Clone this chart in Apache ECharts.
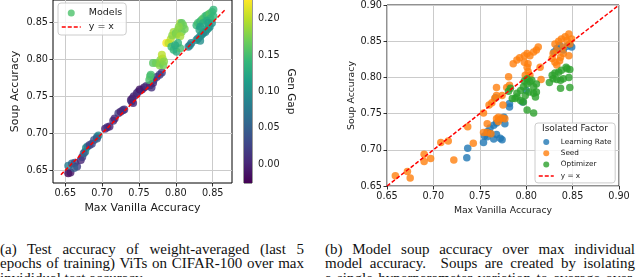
<!DOCTYPE html>
<html><head><meta charset="utf-8">
<script src="https://cdn.jsdelivr.net/npm/echarts@6/dist/echarts.min.js"></script>
<style>
html,body{margin:0;padding:0;width:640px;height:277px;overflow:hidden;background:#fff;}
#chart{position:absolute;left:0;top:0;width:640px;height:232px;}
.cap{position:absolute;top:241.5px;font-family:"Liberation Serif","Times New Roman",serif;font-size:15px;line-height:14.5px;color:#111;}
.cap div{text-align:justify;text-align-last:justify;white-space:normal;}
.cap div.last{text-align:left;text-align-last:left;}
</style></head>
<body>
<div id="chart"></div>
<div class="cap" style="left:0;width:304px;">
<div>(a) Test accuracy of weight-averaged (last 5</div>
<div>epochs of training) ViTs on CIFAR-100 over max</div>
<div class="last">invididual test accuracy.</div>
</div>
<div class="cap" style="left:325px;width:310px;">
<div>(b) Model soup accuracy over max individual</div>
<div>model accuracy.&nbsp; Soups are created by isolating</div>
<div>a single hyperparameter variation to average over.</div>
</div>
<script>
// ---- Left panel: weight-averaged ViTs (Max Vanilla Accuracy, Soup Accuracy, Gen Gap)
const modelVanilla = [
0.654,0.657,0.654,0.659,0.663,0.666,0.662,0.671,0.673,0.677,
0.678,0.680,0.675,0.683,0.686,0.689,0.693,0.695,0.693,0.704,
0.707,0.710,0.715,0.717,0.722,0.725,0.728,0.730,0.739,0.741,
0.743,0.740,0.742,0.747,0.749,0.751,0.754,0.757,0.760,0.765,
0.767,0.769,0.770,0.774,0.778,0.781,
0.764,0.765,0.766,0.769,0.773,0.778,0.779,0.782,0.781,0.778,
0.783,0.784,0.787,0.790,0.793,0.795,0.797,0.800,0.803,0.806,
0.808,0.810,0.812,0.808,0.804,0.801,0.806,0.794,0.797,0.801,
0.806,0.803,0.799,
0.817,0.819,0.821,0.828,0.830,0.833,0.835,0.837,0.840,0.842,
0.844,0.846,0.849,0.833,
0.828,0.830,0.833,0.835,0.837,0.840,0.842,0.844,0.846,0.849,
0.851,0.847,0.842,0.837,0.833,0.832,0.851,0.844];
const modelSoup = [
0.646,0.647,0.656,0.659,0.660,0.655,0.653,0.664,0.668,0.675,
0.680,0.682,0.673,0.684,0.686,0.691,0.695,0.697,0.693,0.706,
0.708,0.709,0.717,0.720,0.727,0.729,0.731,0.732,0.745,0.747,
0.750,0.743,0.741,0.754,0.756,0.759,0.759,0.762,0.764,0.765,
0.762,0.768,0.772,0.776,0.779,0.782,
0.772,0.777,0.779,0.795,0.795,0.795,0.799,0.801,0.806,0.792,
0.792,0.797,0.822,0.822,0.827,0.832,0.837,0.835,0.840,0.849,
0.849,0.846,0.841,0.837,0.844,0.833,0.831,0.817,0.813,0.810,
0.815,0.822,0.819,
0.817,0.819,0.822,0.826,0.828,0.831,0.833,0.835,0.837,0.840,
0.842,0.844,0.849,0.825,
0.846,0.849,0.851,0.853,0.855,0.858,0.859,0.860,0.862,0.864,
0.867,0.855,0.852,0.849,0.844,0.840,0.858,0.849];
const modelGap = [
-0.025,-0.01,0.08,0.06,0.04,0.02,0.05,0.0,0.02,0.09,
0.10,0.08,0.05,0.02,0.03,0.04,0.07,0.09,0.05,0.0,
0.01,0.0,0.01,0.0,0.02,0.0,0.01,0.01,0.0,-0.01,
0.0,0.01,0.0,0.0,0.01,-0.01,0.0,-0.01,0.01,0.0,
0.01,0.0,0.02,0.01,0.02,0.02,
0.15,0.16,0.15,0.16,0.17,0.17,0.18,0.19,0.20,0.18,
0.17,0.18,0.226,0.20,0.20,0.18,0.19,0.17,0.18,0.19,
0.16,0.17,0.17,0.17,0.18,0.18,0.19,0.14,0.14,0.13,
0.15,0.14,0.13,
0.08,0.09,0.08,0.10,0.09,0.09,0.10,0.10,0.09,0.10,
0.11,0.10,0.10,0.10,
0.14,0.15,0.14,0.15,0.16,0.15,0.14,0.15,0.16,0.15,
0.14,0.14,0.13,0.13,0.12,0.12,0.14,0.12];
const leftDiag = [0.644, 0.868];
const leftXTicks = [0.65, 0.70, 0.75, 0.80, 0.85];
const leftYTicks = [0.65, 0.70, 0.75, 0.80, 0.85];
const gapTicks = [0.00, 0.05, 0.10, 0.15, 0.20];
const gapRange = [-0.0257, 0.226];

// ---- Right panel: soups by isolated factor
const lrVanilla = [0.736,0.737,0.754,0.755,0.758,0.761,0.765,0.768,0.772,0.776,0.777,0.765,0.768,0.772,0.774,0.761,0.758,0.782,0.782,0.767,0.796,0.800,0.830,0.833,0.840,0.844,0.847,0.849,0.836];
const lrSoup    = [0.689,0.702,0.710,0.719,0.725,0.730,0.734,0.737,0.742,0.745,0.736,0.715,0.721,0.716,0.714,0.723,0.718,0.764,0.759,0.772,0.766,0.782,0.835,0.840,0.838,0.843,0.845,0.842,0.844];
const seedVanilla = [0.659,0.672,0.675,0.690,0.690,0.697,0.708,0.716,0.722,0.737,0.743,0.754,0.758,0.754,0.758,0.762,0.760,0.763,0.766,0.768,0.775,0.774,0.768,0.768,0.770,0.774,0.777,0.770,0.781,0.782,0.779,0.786,0.790,0.793,0.798,0.801,0.804,0.808,0.811,0.813,0.798,0.801,0.802,0.802,0.815,0.816,0.831,0.835,0.838,0.842,0.846,0.844,0.833,0.829,0.828,0.831,0.833,0.837,0.840,0.846,0.847,0.849,0.840,0.836,0.799,0.804];
const seedSoup    = [0.664,0.670,0.661,0.694,0.684,0.688,0.710,0.712,0.686,0.732,0.709,0.751,0.736,0.724,0.724,0.722,0.762,0.765,0.771,0.775,0.762,0.775,0.786,0.743,0.745,0.744,0.743,0.739,0.801,0.789,0.786,0.819,0.824,0.827,0.830,0.833,0.830,0.835,0.838,0.842,0.821,0.814,0.808,0.819,0.814,0.797,0.846,0.850,0.853,0.856,0.860,0.851,0.837,0.833,0.826,0.821,0.817,0.828,0.833,0.830,0.846,0.853,0.842,0.823,0.803,0.803];
const optVanilla = [0.785,0.790,0.794,0.797,0.801,0.804,0.808,0.811,0.803,0.799,0.794,0.788,0.783,0.790,0.797,0.808,0.810,0.801,0.811,0.801,0.808,0.825,0.829,0.828,0.831,0.835,0.838,0.844,0.847,0.833,0.837,0.840,0.846,0.837,0.847,0.843,0.806,0.798,0.781];
const optSoup    = [0.771,0.778,0.782,0.787,0.791,0.794,0.787,0.780,0.780,0.775,0.768,0.771,0.785,0.773,0.766,0.778,0.773,0.798,0.791,0.755,0.751,0.793,0.798,0.803,0.806,0.807,0.810,0.812,0.811,0.797,0.796,0.798,0.800,0.785,0.786,0.814,0.796,0.795,0.781];
const rightDiag = [0.65, 0.90];
const rightTicks = [0.65, 0.70, 0.75, 0.80, 0.85, 0.90];

const viridis = ['#440154','#482878','#3e4989','#31688e','#26828e','#1f9e89','#35b779','#6ece58','#b5de2b','#fde725'];
const FONT = 'DejaVu Sans';
const TXT = '#1a1a1a';

const zip2 = (a,b) => a.map((v,i)=>[v,b[i]]);
const zip3 = (a,b,c) => a.map((v,i)=>[v,b[i],c[i]]);
const fmt = v => v.toFixed(2);

function valAxis(o){
  return Object.assign({
    type:'value',
    axisLine:{show:false},
    axisTick:{show:true,length:3.5,lineStyle:{color:'#000',width:0.8}},
    axisLabel:{formatter:fmt,fontSize:9.7,color:TXT,fontFamily:FONT,margin:5},
    splitLine:{show:true,lineStyle:{color:'#cbcbcb',width:1}},
    nameLocation:'middle',
    nameTextStyle:{fontSize:11,color:TXT,fontFamily:FONT}
  }, o);
}

const lineLegend = {name:'y = x', itemStyle:{opacity:0, borderWidth:0}, lineStyle:{color:'#ff0000', width:1.5, type:[4,2]}};

const chart = echarts.init(document.getElementById('chart'), null, {renderer:'canvas'});
const option = {
  animation:false,
  textStyle:{fontFamily:FONT},
  grid:[
    {left:53, top:0, width:179, height:183, show:true, borderColor:'#000', borderWidth:1, backgroundColor:'transparent'},
    {left:244, top:0, width:8, height:183, show:true, borderColor:'#000', borderWidth:0.8},
    {left:387, top:4, width:232, height:182, show:true, borderColor:'#222', borderWidth:1, backgroundColor:'transparent'}
  ],
  xAxis:[
    valAxis({gridIndex:0, min:0.6333, max:0.8762, name:'Max Vanilla Accuracy', nameGap:19,
      axisTick:{show:true,length:3.5,lineStyle:{color:'#000',width:0.8},customValues:leftXTicks},
      axisLabel:{customValues:leftXTicks,formatter:fmt,fontSize:9.7,color:TXT,fontFamily:FONT,margin:5}}),
    {gridIndex:1, type:'value', min:0, max:1, show:false},
    valAxis({gridIndex:2, min:0.65, max:0.90, interval:0.05, name:'Max Vanilla Accuracy', nameGap:19,
      nameTextStyle:{fontSize:9.3,color:TXT,fontFamily:FONT}})
  ],
  yAxis:[
    valAxis({gridIndex:0, min:0.6328, max:0.8801, name:'Soup Accuracy', nameGap:32,
      axisTick:{show:true,length:3.5,lineStyle:{color:'#000',width:0.8},customValues:leftYTicks},
      axisLabel:{customValues:leftYTicks,formatter:fmt,fontSize:9.7,color:TXT,fontFamily:FONT,margin:5}}),
    {gridIndex:1, type:'value', position:'right', min:gapRange[0], max:gapRange[1],
      axisLine:{show:false}, splitLine:{show:false},
      axisTick:{show:true,length:3.5,lineStyle:{color:'#000',width:0.8},customValues:gapTicks},
      axisLabel:{customValues:gapTicks,formatter:fmt,fontSize:9.7,color:TXT,fontFamily:FONT,margin:6},
      name:'Gen Gap', nameLocation:'middle', nameRotate:-90, nameGap:33,
      nameTextStyle:{fontSize:10.5,color:TXT,fontFamily:FONT}},
    valAxis({gridIndex:2, min:0.65, max:0.90, interval:0.05, name:'Soup Accuracy', nameGap:31,
      nameTextStyle:{fontSize:9.3,color:TXT,fontFamily:FONT}})
  ],
  visualMap:[{
    type:'continuous', show:false, seriesIndex:0, dimension:2,
    min:gapRange[0], max:gapRange[1], inRange:{color:viridis}
  }],
  legend:[
    {left:58, top:3, orient:'vertical', selectedMode:false,
     data:[{name:'Models', icon:'circle', itemStyle:{color:'#4cc26c'}}, lineLegend],
     itemWidth:19, itemHeight:7, itemGap:3, padding:[4.5,4,2.5,3],
     backgroundColor:'rgba(255,255,255,0.8)', borderColor:'#cccccc', borderWidth:1, borderRadius:3,
     textStyle:{fontSize:9.5, color:TXT, lineHeight:11, fontFamily:FONT, padding:[0,0,0,3]}},
    {left:535, top:123, orient:'vertical', selectedMode:false,
     data:[{name:'Learning Rate', icon:'circle'},{name:'Seed', icon:'circle'},{name:'Optimizer', icon:'circle'},lineLegend],
     itemWidth:15, itemHeight:6, itemGap:2.3, padding:[14.5,3.7,2.5,3],
     backgroundColor:'rgba(255,255,255,0.8)', borderColor:'#cccccc', borderWidth:1, borderRadius:3,
     textStyle:{fontSize:7.3, color:TXT, lineHeight:9, fontFamily:FONT, padding:[0,0,0,2]}}
  ],
  graphic:[
    {type:'text', x:575, y:129, z:100, style:{text:'Isolated Factor', fontSize:9, fontFamily:FONT, fill:TXT, align:'center', verticalAlign:'middle'}}
  ],
  series:[
    {name:'Models', type:'scatter', xAxisIndex:0, yAxisIndex:0, symbolSize:8,
     data:zip3(modelVanilla, modelSoup, modelGap), z:2},
    {name:'y = x', type:'line', xAxisIndex:0, yAxisIndex:0, symbol:'none', showSymbol:false,
     data:zip2(leftDiag, leftDiag), itemStyle:{color:'#ff0000'}, lineStyle:{color:'#ff0000', width:1.5, type:[4,2]}, z:5, silent:true},
    {name:'colorbar', type:'custom', xAxisIndex:1, yAxisIndex:1, silent:true,
     data:[[0, gapRange[0], gapRange[1]]],
     renderItem:(params, api)=>{
       const p0 = api.coord([0, api.value(2)]);
       const p1 = api.coord([1, api.value(1)]);
       return {type:'rect', shape:{x:p0[0], y:p0[1], width:p1[0]-p0[0], height:p1[1]-p0[1]},
         style:{fill:new echarts.graphic.LinearGradient(0,1,0,0, viridis.map((c,i)=>({offset:i/(viridis.length-1), color:c})))}};
     }},
    {name:'Learning Rate', type:'scatter', xAxisIndex:2, yAxisIndex:2, symbolSize:7.5, itemStyle:{color:'#1f77b4'}, data:zip2(lrVanilla, lrSoup), z:2},
    {name:'Seed', type:'scatter', xAxisIndex:2, yAxisIndex:2, symbolSize:7.5, itemStyle:{color:'#ff7f0e'}, data:zip2(seedVanilla, seedSoup), z:2},
    {name:'Optimizer', type:'scatter', xAxisIndex:2, yAxisIndex:2, symbolSize:7.5, itemStyle:{color:'#2ca02c'}, data:zip2(optVanilla, optSoup), z:2},
    {name:'y = x', type:'line', xAxisIndex:2, yAxisIndex:2, symbol:'none', showSymbol:false,
     data:zip2(rightDiag, rightDiag), itemStyle:{color:'#ff0000'}, lineStyle:{color:'#ff0000', width:1.5, type:[4,2]}, z:5, silent:true}
  ]
};
chart.setOption(option);
</script>
</body></html>
